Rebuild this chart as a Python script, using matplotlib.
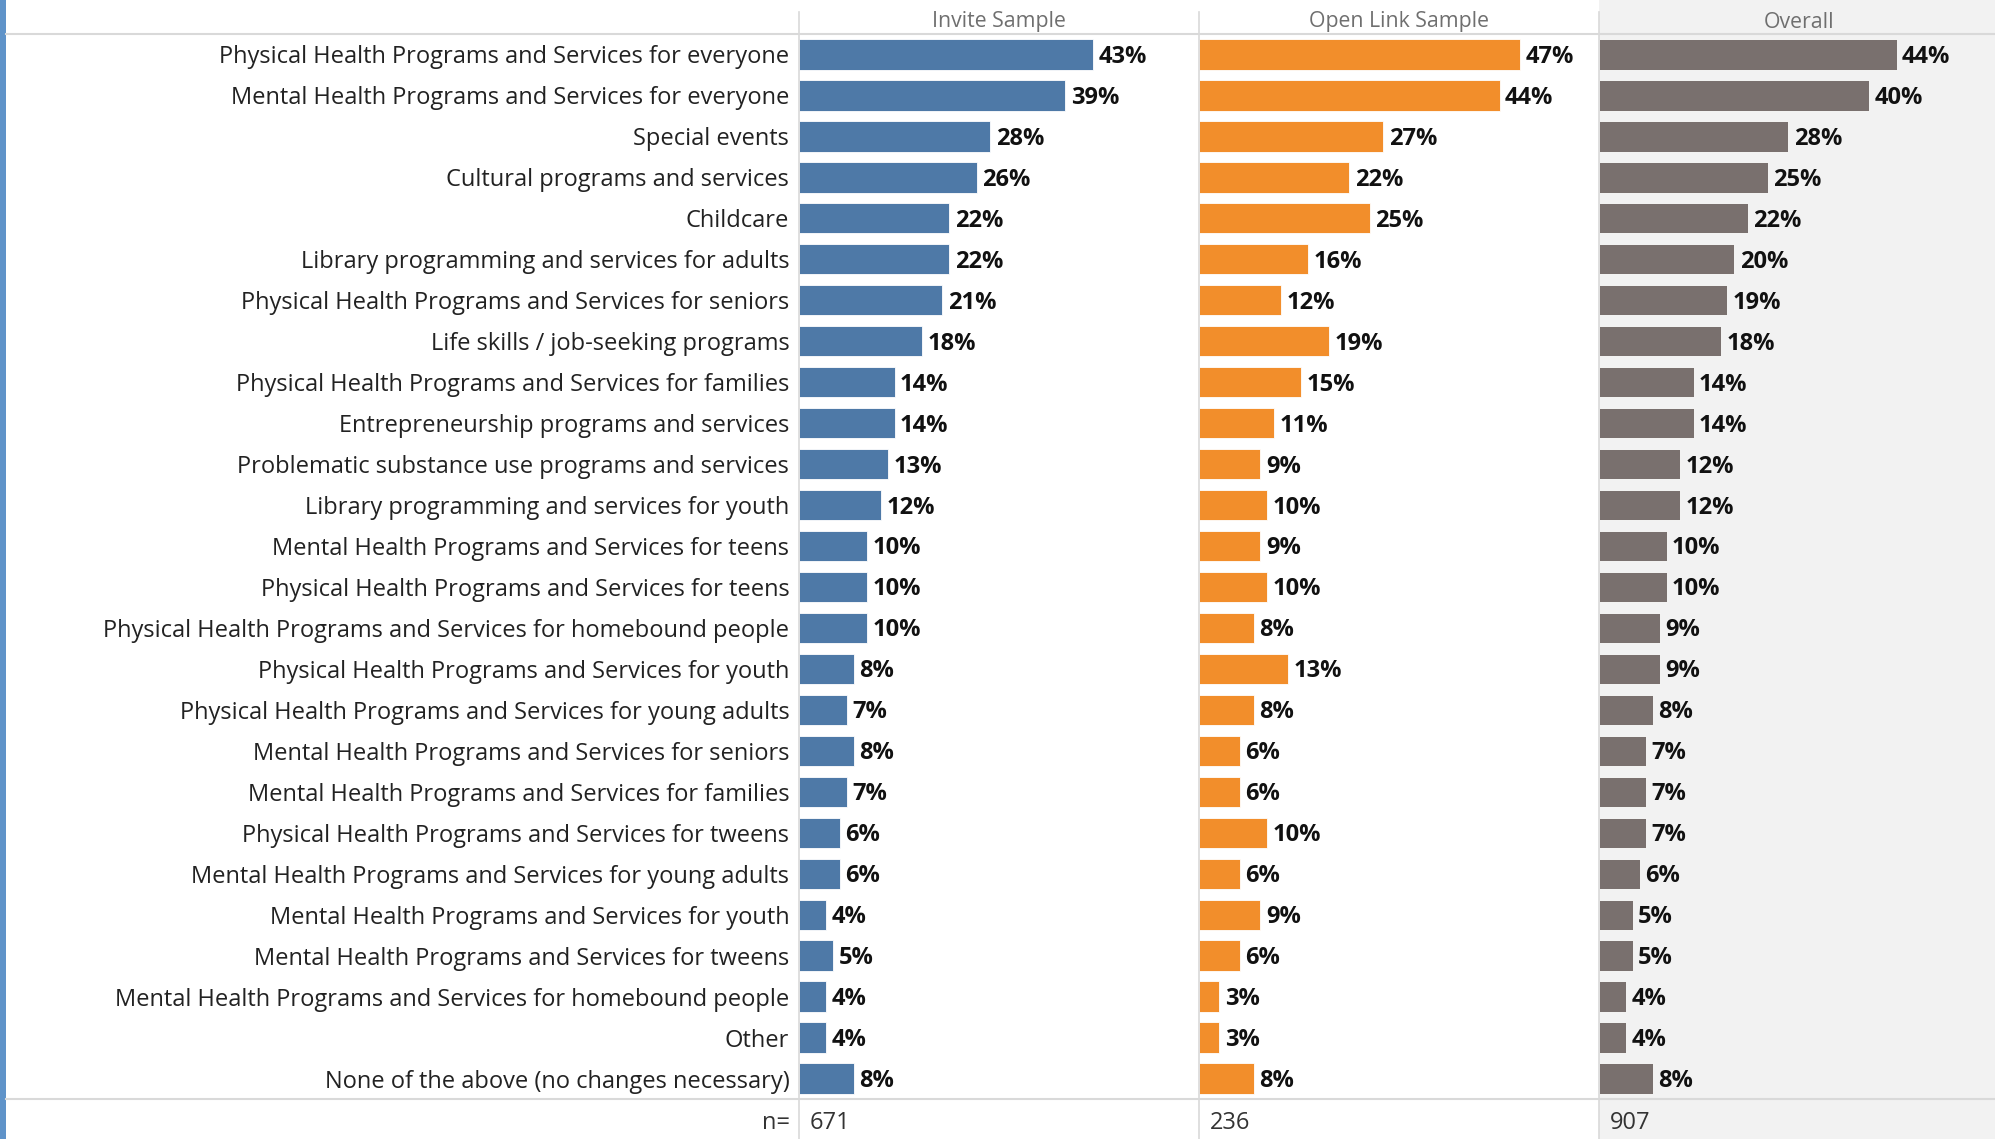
import matplotlib.pyplot as plt
from matplotlib.patches import Rectangle
from matplotlib.lines import Line2D

categories = [
    "Physical Health Programs and Services for everyone",
    "Mental Health Programs and Services for everyone",
    "Special events",
    "Cultural programs and services",
    "Childcare",
    "Library programming and services for adults",
    "Physical Health Programs and Services for seniors",
    "Life skills / job-seeking programs",
    "Physical Health Programs and Services for families",
    "Entrepreneurship programs and services",
    "Problematic substance use programs and services",
    "Library programming and services for youth",
    "Mental Health Programs and Services for teens",
    "Physical Health Programs and Services for teens",
    "Physical Health Programs and Services for homebound people",
    "Physical Health Programs and Services for youth",
    "Physical Health Programs and Services for young adults",
    "Mental Health Programs and Services for seniors",
    "Mental Health Programs and Services for families",
    "Physical Health Programs and Services for tweens",
    "Mental Health Programs and Services for young adults",
    "Mental Health Programs and Services for youth",
    "Mental Health Programs and Services for tweens",
    "Mental Health Programs and Services for homebound people",
    "Other",
    "None of the above (no changes necessary)",
]
invite = [43, 39, 28, 26, 22, 22, 21, 18, 14, 14, 13, 12, 10, 10, 10, 8, 7, 8, 7, 6, 6, 4, 5, 4, 4, 8]
open_link = [47, 44, 27, 22, 25, 16, 12, 19, 15, 11, 9, 10, 9, 10, 8, 13, 8, 6, 6, 10, 6, 9, 6, 3, 3, 8]
overall = [44, 40, 28, 25, 22, 20, 19, 18, 14, 14, 12, 12, 10, 10, 9, 9, 8, 7, 7, 7, 6, 5, 5, 4, 4, 8]
panels = ["Invite Sample", "Open Link Sample", "Overall"]
n_values = [671, 236, 907]
colors = ["#4e79a7", "#f28e2b", "#79706e"]

W, H = 1995, 1139
fig = plt.figure(figsize=(W / 100, H / 100), dpi=100)
fig.patch.set_facecolor("white")

FONT = "Open Sans"
grid = "#d9d9d9"

# pixel layout helpers
def fx(px):
    return px / W

def fy(py):
    return 1 - py / H

left_edges = [799, 1199, 1599]
top, bottom = 34, 1099

# grey column behind the overall panel
fig.add_artist(Rectangle((fx(1599), 0), 1 - fx(1599), 1, transform=fig.transFigure,
                         facecolor="#f2f2f2", edgecolor="none", zorder=0))
# blue strip on the left edge
fig.add_artist(Rectangle((0, 0), fx(6), 1, transform=fig.transFigure,
                         facecolor="#5f93c9", edgecolor="none", zorder=0))

axes = []
for i, (name, vals, col) in enumerate(zip(panels, [invite, open_link, overall], colors)):
    x0 = left_edges[i]
    w = (left_edges[i + 1] if i < 2 else W) - x0
    ax = fig.add_axes([fx(x0), fy(bottom), fx(w), (bottom - top) / H])
    ax.set_facecolor("none")
    y = list(range(len(categories)))
    ax.barh(y, vals, height=0.74, color=col, edgecolor="white", linewidth=0.6)
    for yi, v in zip(y, vals):
        ax.text(v + 0.8, yi + 0.06, f"{v}%", va="center", ha="left", fontsize=17,
                fontweight="bold", family=FONT, color="#111111")
    ax.set_xlim(0, 400 / 6.83)
    ax.set_ylim(len(categories) - 0.5, -0.5)
    ax.set_xticks([])
    for s in ax.spines.values():
        s.set_visible(False)
    if i == 0:
        ax.set_yticks(y)
        ax.set_yticklabels(categories, fontsize=17, family=FONT, color="#222222")
        ax.tick_params(axis="y", length=0, pad=7)
    else:
        ax.set_yticks([])
    # header and sample size
    cx = x0 + w / 2 if i < 2 else x0 + 200
    fig.text(fx(cx), fy(22), name, ha="center", va="center", fontsize=15.3,
             family=FONT, color="#6f6f6f")
    fig.text(fx(x0 + 11), fy(1123), str(n_values[i]), ha="left", va="center",
             fontsize=17, family=FONT, color="#333333")
    axes.append(ax)

fig.text(fx(790), fy(1123), "n=", ha="right", va="center", fontsize=17,
         family=FONT, color="#333333")

# separators
for yy in (top, bottom):
    fig.add_artist(Line2D([fx(6), 1], [fy(yy), fy(yy)], transform=fig.transFigure,
                          color=grid, linewidth=1.5, zorder=1))
for xx in left_edges:
    fig.add_artist(Line2D([fx(xx), fx(xx)], [fy(12), 0], transform=fig.transFigure,
                          color=grid, linewidth=1.2, zorder=1))

fig.savefig("out.png", dpi=100)
